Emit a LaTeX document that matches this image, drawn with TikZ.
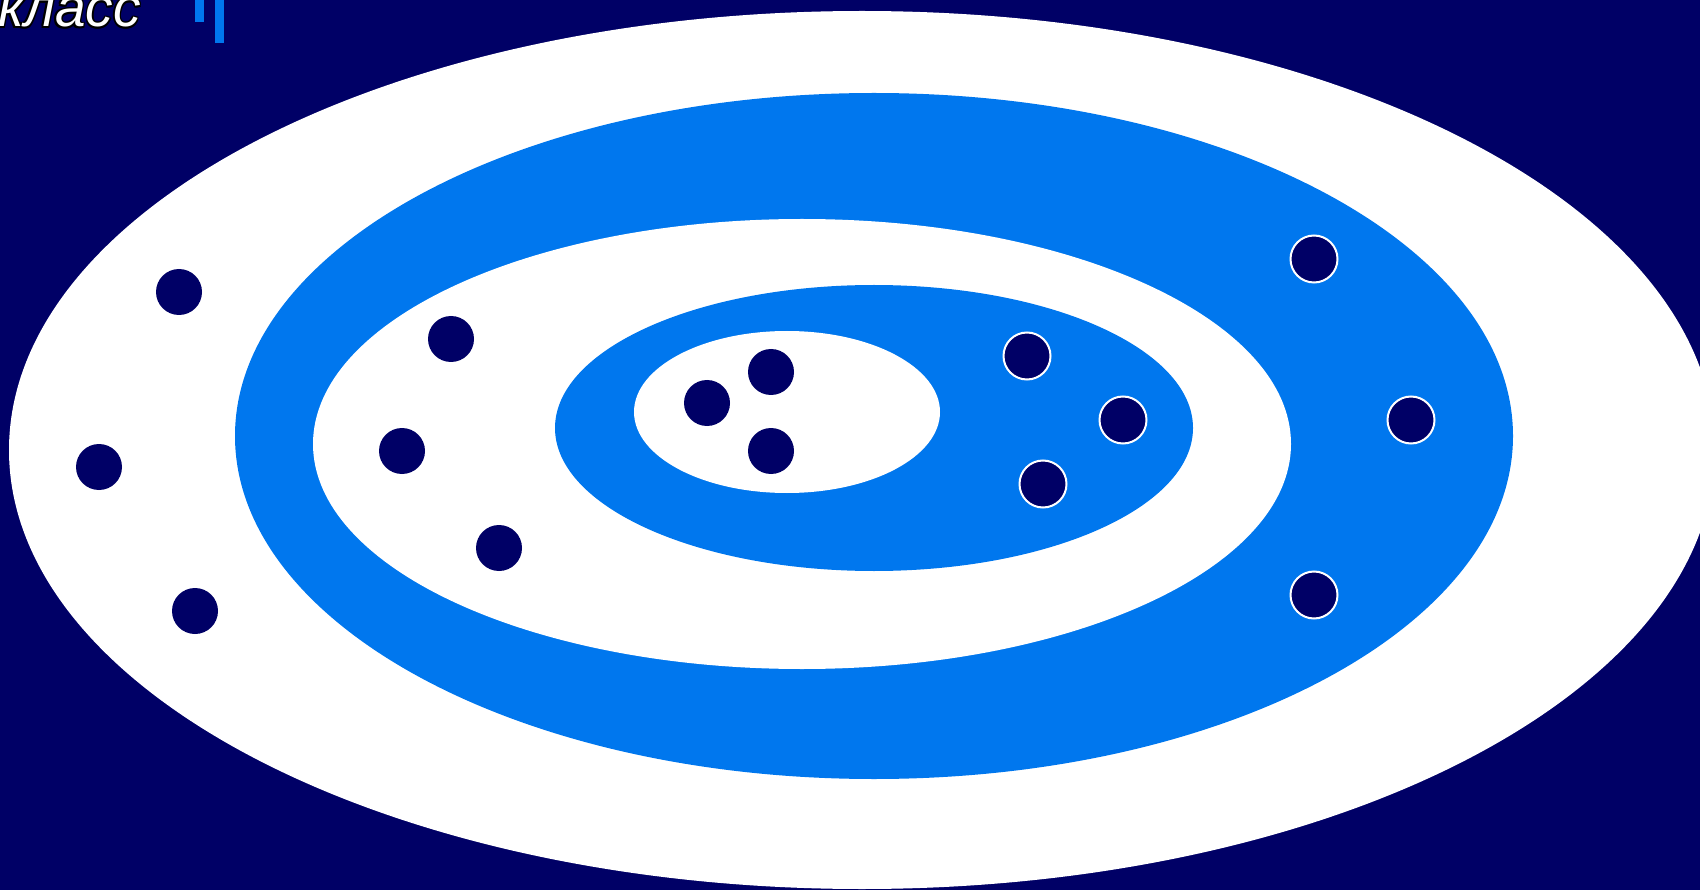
\documentclass[tikz,border=0pt]{standalone}
\usepackage{fontspec}
\setmainfont{Liberation Sans}
\definecolor{navy}{RGB}{0,0,102}
\definecolor{skyblue}{RGB}{0,119,238}
\begin{document}
\begin{tikzpicture}[x=1pt,y=-1pt,
  dot/.style={circle,fill=navy,inner sep=0pt,minimum size=46pt},
  ringdot/.style={circle,fill=navy,draw=white,line width=2pt,inner sep=0pt,minimum size=47pt},
  ttl/.style={font=\fontsize{55}{62}\selectfont\itshape,inner sep=0pt,anchor=base west}]
\useasboundingbox (0,0) rectangle (1700,890);
\fill[navy] (0,0) rectangle (1700,890);
\begin{scope}
\clip (0,0) rectangle (1700,890);
\fill[white] (862,450) ellipse [x radius=853, y radius=439];
\fill[skyblue] (874,436) ellipse [x radius=639, y radius=343];
\fill[white] (802,444) ellipse [x radius=489, y radius=225];
\fill[skyblue] (874,428) ellipse [x radius=319, y radius=143];
\fill[white] (787,412) ellipse [x radius=153, y radius=81];
% title
\foreach \dx/\dy in {1.6/0,-1.6/0,0/1.6,0/-1.6,1.2/1.2,-1.2/1.2,1.2/-1.2,-1.2/-1.2}
  \node[ttl,text=black] at (-2+\dx,27+\dy) {класс};
\node[ttl,text=white] (title) at (-2,27) {класс};
\fill[skyblue] (195,0) rectangle (204,22);
\fill[skyblue] (215,0) rectangle (224,43);
\end{scope}
% dots on white
\node[dot] (d1) at (179,292) {};
\node[dot] (d2) at (99,467) {};
\node[dot] (d3) at (195,611) {};
\node[dot] (d4) at (451,339) {};
\node[dot] (d5) at (402,451) {};
\node[dot] (d6) at (499,548) {};
\node[dot] (d7) at (771,372) {};
\node[dot] (d8) at (707,403) {};
\node[dot] (d9) at (771,451) {};
% dots on blue
\node[ringdot] (r1) at (1314,259) {};
\node[ringdot] (r2) at (1411,420) {};
\node[ringdot] (r3) at (1314,595) {};
\node[ringdot] (r4) at (1027,356) {};
\node[ringdot] (r5) at (1123,420) {};
\node[ringdot] (r6) at (1043,484) {};
\end{tikzpicture}
\end{document}
